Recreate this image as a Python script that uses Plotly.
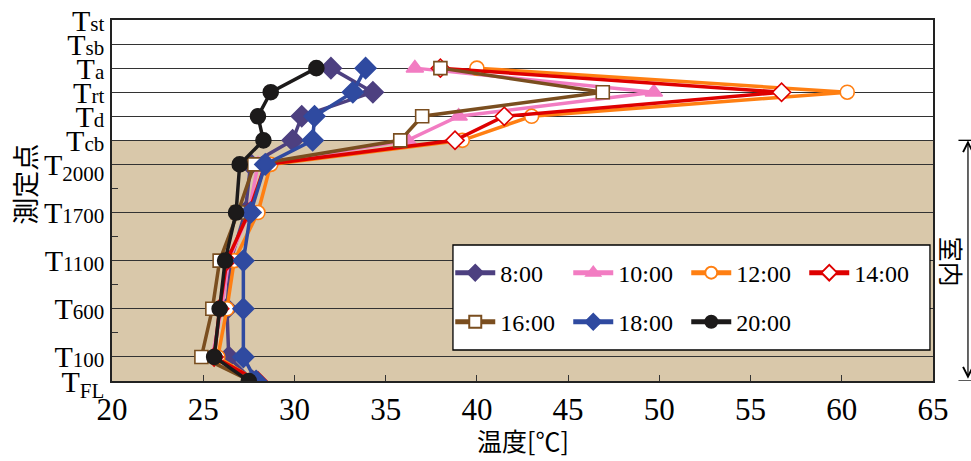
import plotly.graph_objects as go

# Measurement points from floor (T_FL) up to the roof (T_st), and their spacing on the vertical axis
SMALL = "<span style='font-size:21px'>{}</span>"
point_labels = ["T<sub>FL</sub>", "T" + SMALL.format("100"), "T" + SMALL.format("600"),
                "T" + SMALL.format("1100"), "T" + SMALL.format("1700"), "T<sub>2000</sub>",
                "T" + SMALL.format("cb"), "T" + SMALL.format("d"), "T" + SMALL.format("rt"),
                "T" + SMALL.format("a"), "T" + SMALL.format("sb"), "T" + SMALL.format("st")]
point_rank = [0, 1, 3, 5, 7, 9, 10, 11, 12, 13, 14, 15]

# Points that carry readings (top to bottom): T_a, T_rt, T_d, T_cb, T_2000, T_1700, T_1100, T_600, T_100, T_FL
measured_rank = [13, 12, 11, 10, 9, 7, 5, 3, 1, 0]

times = ["8:00", "10:00", "12:00", "14:00", "16:00", "18:00", "20:00"]
t_0800 = [32.0, 34.3, 30.4, 29.9, 27.6, 27.3, 26.5, 26.3, 26.4, 27.7]
t_1000 = [36.6, 49.7, 39.0, 36.2, 28.0, 27.5, 26.4, 26.0, 25.5, 27.8]
t_1200 = [40.0, 60.3, 43.0, 39.2, 28.7, 28.0, 26.7, 26.3, 25.8, 27.9]
t_1400 = [38.0, 56.7, 41.5, 38.8, 28.4, 27.5, 26.3, 25.9, 25.6, 28.0]
t_1600 = [38.0, 46.9, 37.0, 35.8, 27.8, 26.9, 25.9, 25.5, 24.9, 27.6]
t_1800 = [33.9, 33.2, 31.1, 31.0, 28.4, 27.6, 27.2, 27.2, 27.2, 27.9]
t_2000 = [31.2, 28.7, 28.0, 28.3, 27.0, 26.8, 26.2, 25.9, 25.6, 27.5]

x_ticks = [20, 25, 30, 35, 40, 45, 50, 55, 60, 65]

series = [
    (times[0], t_0800, "#4d4080", "diamond", "#4d4080", 16, "legend"),
    (times[1], t_1000, "#f27cc2", "triangle-up", "#f27cc2", 15, "legend"),
    (times[2], t_1200, "#ff7f12", "circle", "white", 14, "legend"),
    (times[3], t_1400, "#de0000", "diamond", "white", 14, "legend"),
    (times[4], t_1600, "#7a4e1f", "square", "white", 13, "legend2"),
    (times[5], t_1800, "#2f4aa0", "diamond", "#2f4aa0", 16, "legend2"),
    (times[6], t_2000, "#1c1a1a", "circle", "#1c1a1a", 15, "legend2"),
]

serif = "Liberation Serif, Times New Roman, serif"
cjk = "Noto Sans CJK JP, sans-serif"

fig = go.Figure()
for name, vals, color, symbol, fill, size, lg in series:
    fig.add_trace(go.Scatter(
        x=vals, y=measured_rank, name=name, mode="lines+markers",
        line=dict(color=color, width=3.5),
        marker=dict(symbol=symbol, size=size, color=fill,
                    line=dict(color=color, width=1.6)),
        legend=lg,
    ))

# indoor zone background (floor up to the ceiling board)
fig.add_shape(type="rect", xref="paper", yref="y", x0=0, x1=1, y0=0, y1=10,
              fillcolor="#d9c8aa", line_width=0, layer="below")

# legend frame
fig.add_shape(type="rect", xref="paper", yref="paper",
              x0=0.4153, x1=0.9963, y0=0.0859, y1=0.3767,
              fillcolor="white", line=dict(color="black", width=1.3), layer="above")

# indoor range marker on the right
fig.add_annotation(xref="paper", yref="y", x=1.0426, y=10, text="",
                   showarrow=True, axref="pixel", ayref="pixel", ax=0, ay=240,
                   arrowside="end+start", arrowhead=5, arrowsize=1.6,
                   arrowwidth=1.2, arrowcolor="black")
for yv in (10, 0):
    fig.add_shape(type="line", xref="paper", yref="y", x0=1.031, x1=1.054,
                  y0=yv, y1=yv, line=dict(color="black", width=1.3))
fig.add_annotation(xref="paper", yref="paper", x=1.0232, y=0.33, text="室内",
                   xanchor="center", yanchor="middle",
                   showarrow=False, textangle=90, font=dict(family=cjk, size=25, color="black"))

# axis titles
fig.add_annotation(xref="paper", yref="paper", x=-0.106, y=0.546, text="測定点",
                   xanchor="center", yanchor="middle",
                   showarrow=False, textangle=-90, font=dict(family=cjk, size=27, color="black"))
fig.add_annotation(xref="paper", yref="paper", x=0.5006, y=-0.163, text="温度[℃]",
                   xanchor="center", yanchor="middle",
                   showarrow=False, font=dict(family=cjk, size=25, color="black"))

fig.update_xaxes(range=[20, 65], tickvals=x_ticks, ticktext=[str(v) for v in x_ticks],
                 showgrid=False, zeroline=False, ticks="inside", ticklen=6,
                 tickcolor="#333", showline=True, linecolor="#222", linewidth=1.5,
                 mirror=True, automargin=False,
                 tickfont=dict(family=serif, size=31, color="black"))
fig.update_yaxes(range=[0, 15], tickvals=point_rank, ticktext=point_labels,
                 showgrid=True, gridcolor="#333", gridwidth=1.2, zeroline=False,
                 ticks="inside", ticklen=6, tickcolor="#333",
                 minor=dict(tickvals=[2, 4, 6, 8], ticks="inside", ticklen=6,
                            tickcolor="#333", showgrid=False),
                 showline=True, linecolor="#222", linewidth=1.5, mirror=True,
                 automargin=False,
                 tickfont=dict(family=serif, size=30, color="black"))

legend_common = dict(orientation="h", xanchor="left", yanchor="middle",
                     bgcolor="rgba(0,0,0,0)", borderwidth=0, itemsizing="constant",
                     font=dict(family=serif, size=24, color="black"),
                     entrywidthmode="pixels", entrywidth=63, itemwidth=40)
fig.update_layout(
    width=971, height=461,
    margin=dict(l=112, r=38, t=20, b=80),
    paper_bgcolor="white", plot_bgcolor="white",
    showlegend=True,
    legend=dict(x=0.412, y=0.299, **legend_common),
    legend2=dict(x=0.412, y=0.163, **legend_common),
)

fig.write_html("out.html")
